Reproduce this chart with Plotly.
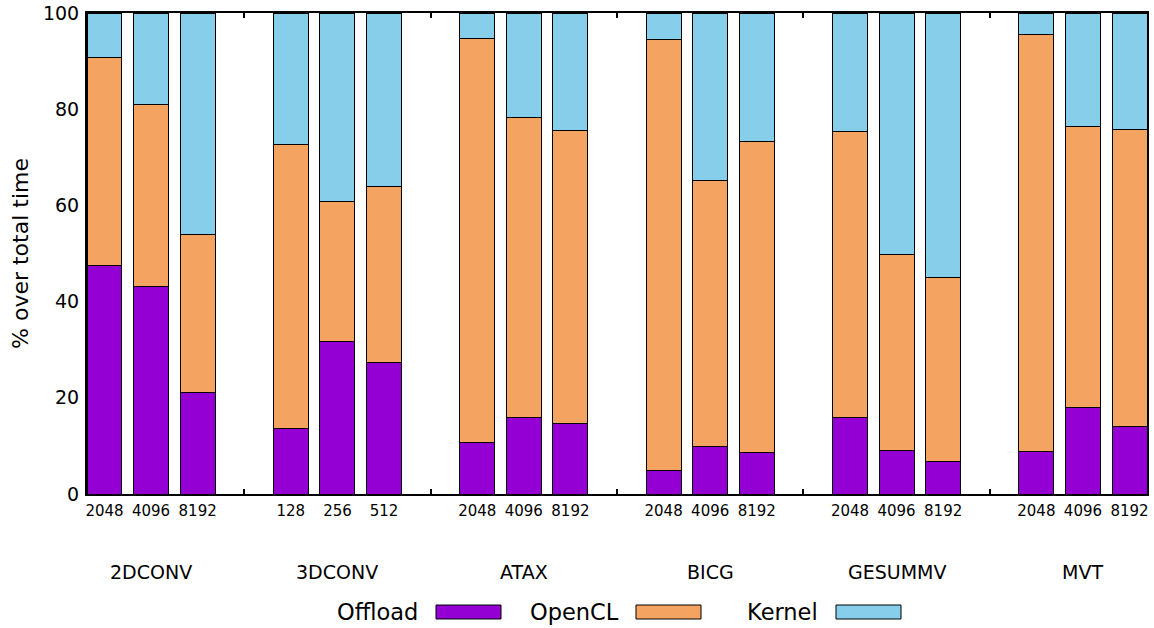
import plotly.graph_objects as go

groups = ["2DCONV", "3DCONV", "ATAX", "BICG", "GESUMMV", "MVT"]
sizes = [
    ["2048", "4096", "8192"],
    ["128", "256", "512"],
    ["2048", "4096", "8192"],
    ["2048", "4096", "8192"],
    ["2048", "4096", "8192"],
    ["2048", "4096", "8192"],
]
series_names = ["Offload", "OpenCL", "Kernel"]
colors = ["#9400D3", "#F4A460", "#87CEEB"]

offload = [47.5, 43.2, 21.2, 13.7, 31.7, 27.3, 10.7, 16.0, 14.6, 4.9, 9.8, 8.6, 15.9, 9.0, 6.8, 8.9, 17.9, 14.1]
opencl = [43.3, 37.8, 32.7, 58.9, 29.2, 36.7, 84.0, 62.3, 60.9, 89.6, 55.3, 64.6, 59.4, 40.8, 38.3, 86.6, 58.5, 61.6]
kernel = [9.2, 19.0, 46.1, 27.4, 39.1, 36.0, 5.3, 21.7, 24.5, 5.5, 34.9, 26.8, 24.7, 50.2, 54.9, 4.5, 23.6, 24.3]

FONT = "DejaVu Sans"
nb = 3
slot = nb + 1
xpos = [g * slot + i for g in range(len(groups)) for i in range(nb)]
labels = [s for grp in sizes for s in grp]
seps = [g * slot + nb for g in range(len(groups) - 1)]
centers = [g * slot + (nb - 1) / 2 for g in range(len(groups))]
bw = 0.75
xr = [-bw / 2, xpos[-1] + bw / 2]

fig = go.Figure()
for name, vals, col in zip(series_names, [offload, opencl, kernel], colors):
    fig.add_trace(go.Bar(x=xpos, y=vals, name=name, width=bw,
                         marker=dict(color=col, line=dict(color="black", width=1)),
                         showlegend=False))
fig.add_trace(go.Scatter(x=[], y=[], xaxis="x2", showlegend=False, hoverinfo="skip"))

fig.update_layout(
    template="none",
    barmode="stack",
    width=1154, height=628,
    margin=dict(l=87, r=7, t=13, b=134),
    plot_bgcolor="white", paper_bgcolor="white",
    font=dict(family=FONT, color="black"),
    xaxis=dict(range=xr, tickmode="array", tickvals=xpos, ticktext=labels,
               ticks="", showgrid=False, zeroline=False, automargin=False,
               showline=True, linecolor="black", linewidth=2, mirror=True,
               tickfont=dict(size=15, family=FONT), ticklabelstandoff=2,
               ticklabeloverflow="allow"),
    xaxis2=dict(range=xr, overlaying="x", anchor="y", side="bottom",
                tickmode="array", tickvals=seps, ticks="inside", ticklen=5,
                tickwidth=2, tickcolor="black", showticklabels=False, automargin=False,
                showgrid=False, zeroline=False, showline=False, mirror="ticks"),
    yaxis=dict(range=[0, 100], tickmode="array", tickvals=[0, 20, 40, 60, 80, 100],
               ticks="", showgrid=False, zeroline=False, automargin=False,
               showline=True, linecolor="black", linewidth=2, mirror=True,
               tickfont=dict(size=19, family=FONT), ticklabelstandoff=2,
               ticklabeloverflow="allow",
               title=dict(text="% over total time", font=dict(size=22, family=FONT), standoff=8)),
)

for c, g in zip(centers, groups):
    fig.add_annotation(x=c, y=-0.162, xref="x", yref="paper", text=g, showarrow=False,
                       font=dict(size=19, family=FONT), xanchor="center", yanchor="middle")

# legend (text then key box, gnuplot style); positions in window pixels -> paper
plot_l, plot_w, plot_b, plot_h = 87, 1060, 494, 481
def px(v):
    return (v - plot_l) / plot_w
def py(v):
    return (plot_b - v) / plot_h
leg_text_right = [420, 621, 820]
leg_box_left = [436, 636, 836]
box_w = 65
for name, col, tr, bl in zip(series_names, colors, leg_text_right, leg_box_left):
    fig.add_annotation(x=px(tr), y=py(612), xref="paper", yref="paper", text=name,
                       showarrow=False, xanchor="right", yanchor="middle",
                       font=dict(size=22.5, family=FONT))
    fig.add_shape(type="rect", xref="paper", yref="paper",
                  x0=px(bl), x1=px(bl + box_w), y0=py(619), y1=py(605),
                  fillcolor=col, line=dict(color="black", width=1))

fig.write_html("out.html", config={"displayModeBar": False},
               post_script="document.body.style.margin='0px';document.body.style.overflow='hidden';")
